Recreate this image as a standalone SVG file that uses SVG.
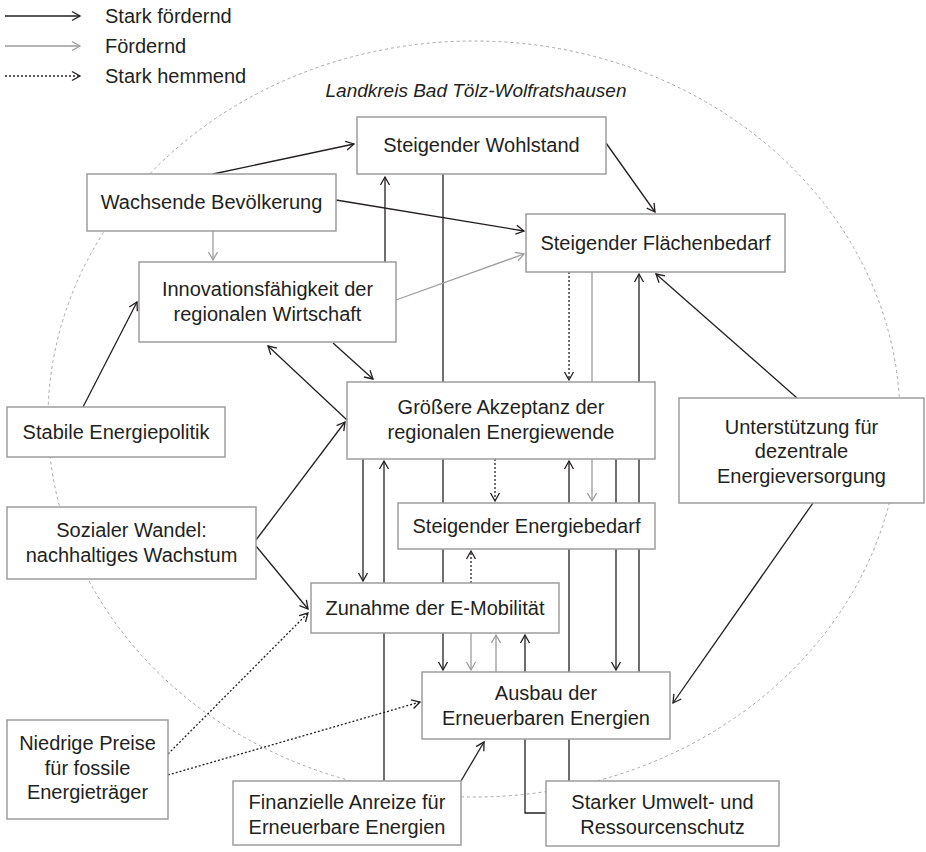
<svg xmlns="http://www.w3.org/2000/svg" width="926" height="852" viewBox="0 0 926 852">
  <style>
    .box { fill: #ffffff; stroke: #9d9d9d; stroke-width: 1.5; }
    .lbl { font-family: "Liberation Sans", Arial, sans-serif; font-size: 20px; fill: #231f20; text-anchor: middle; }
    .leg { font-family: "Liberation Sans", Arial, sans-serif; font-size: 20px; fill: #231f20; }
    .title { font-family: "Liberation Sans", Arial, sans-serif; font-size: 19px; font-style: italic; fill: #231f20; text-anchor: middle; }
    .strong { fill: none; stroke: #231f20; stroke-width: 1.3; marker-end: url(#ah-dark); }
    .weak { fill: none; stroke: #9d9d9d; stroke-width: 1.3; marker-end: url(#ah-grey); }
    .inhib { fill: none; stroke: #231f20; stroke-width: 1.3; stroke-dasharray: 2 2; marker-end: url(#ah-dark); }
    .region { fill: none; stroke: #a8a8a8; stroke-width: 1; stroke-dasharray: 3 3; }
  </style>
  <defs>
    <marker id="ah-dark" viewBox="-10 -6 12 12" refX="0" refY="0" markerWidth="12" markerHeight="12" markerUnits="userSpaceOnUse" orient="auto">
      <path d="M-8,-4.5 L0,0 L-8,4.5" fill="none" stroke="#231f20" stroke-width="1.3"/>
    </marker>
    <marker id="ah-grey" viewBox="-10 -6 12 12" refX="0" refY="0" markerWidth="12" markerHeight="12" markerUnits="userSpaceOnUse" orient="auto">
      <path d="M-8,-4.5 L0,0 L-8,4.5" fill="none" stroke="#9d9d9d" stroke-width="1.3"/>
    </marker>
  </defs>

  <rect width="926" height="852" fill="#ffffff"/>

  <!-- legend -->
  <g id="legend">
    <line x1="5" y1="16" x2="80" y2="16" class="strong"/>
    <text x="105" y="23" class="leg">Stark fördernd</text>
    <line x1="5" y1="46" x2="80" y2="46" class="weak"/>
    <text x="105" y="53" class="leg">Fördernd</text>
    <line x1="5" y1="76" x2="80" y2="76" class="inhib"/>
    <text x="105" y="83" class="leg">Stark hemmend</text>
  </g>

  <!-- district boundary -->
  <g id="district">
    <ellipse cx="474" cy="419" rx="426" ry="378" class="region"/>
    <text x="476" y="97" class="title">Landkreis Bad Tölz-Wolfratshausen</text>
  </g>

  <g id="connectors">
    <!-- strongly promoting -->
    <path d="M213,174 L354,144" class="strong"/>
    <path d="M336,200 L524,231" class="strong"/>
    <path d="M385,262 L385,177" class="strong"/>
    <path d="M443,174 L443,670" class="strong"/>
    <path d="M606,143 L655,212" class="strong"/>
    <path d="M83,407 L137,302" class="strong"/>
    <path d="M333,343 L373,379" class="strong"/>
    <path d="M347,420 L268,346" class="strong"/>
    <path d="M256,540 L345,422" class="strong"/>
    <path d="M256,546 L308,609" class="strong"/>
    <path d="M363,459 L363,581" class="strong"/>
    <path d="M384,781 L384,461" class="strong"/>
    <path d="M461,781 L484,742" class="strong"/>
    <path d="M639,672 L639,274" class="strong"/>
    <path d="M616,459 L616,670" class="strong"/>
    <path d="M569,781 L569,461" class="strong"/>
    <path d="M546,813 L525,813 L525,635" class="strong"/>
    <path d="M797,398 L656,274" class="strong"/>
    <path d="M813,503 L673,703" class="strong"/>
    <!-- promoting -->
    <path d="M213,231 L213,260" class="weak"/>
    <path d="M396,300 L524,254" class="weak"/>
    <path d="M592,272 L592,501" class="weak"/>
    <path d="M471,633 L471,670" class="weak"/>
    <path d="M496,672 L496,635" class="weak"/>
    <!-- strongly inhibiting -->
    <path d="M569,272 L569,380" class="inhib"/>
    <path d="M495,459 L495,501" class="inhib"/>
    <path d="M471,583 L471,551" class="inhib"/>
    <path d="M168,754 L308,613" class="inhib"/>
    <path d="M168,775 L420,702" class="inhib"/>
  </g>

  <g id="node-wohlstand">
    <rect x="357" y="117" width="249" height="57" class="box"/>
    <text x="481.5" y="152" class="lbl">Steigender Wohlstand</text>
  </g>
  <g id="node-bevoelkerung">
    <rect x="87" y="174" width="249" height="57" class="box"/>
    <text x="211.5" y="209" class="lbl">Wachsende Bevölkerung</text>
  </g>
  <g id="node-innovation">
    <rect x="139" y="262" width="257" height="80" class="box"/>
    <text x="267.5" y="296" class="lbl">Innovationsfähigkeit der</text>
    <text x="267.5" y="320.5" class="lbl">regionalen Wirtschaft</text>
  </g>
  <g id="node-flaechenbedarf">
    <rect x="526" y="214" width="259" height="58" class="box"/>
    <text x="655.5" y="250" class="lbl">Steigender Flächenbedarf</text>
  </g>
  <g id="node-akzeptanz">
    <rect x="347" y="382" width="308" height="77" class="box"/>
    <text x="501" y="414" class="lbl">Größere Akzeptanz der</text>
    <text x="501" y="438.5" class="lbl">regionalen Energiewende</text>
  </g>
  <g id="node-energiebedarf">
    <rect x="398" y="503" width="257" height="46" class="box"/>
    <text x="526.5" y="533" class="lbl">Steigender Energiebedarf</text>
  </g>
  <g id="node-emobilitaet">
    <rect x="311" y="583" width="248" height="50" class="box"/>
    <text x="435" y="615" class="lbl">Zunahme der E-Mobilität</text>
  </g>
  <g id="node-ausbau">
    <rect x="422" y="672" width="248" height="67" class="box"/>
    <text x="546" y="700" class="lbl">Ausbau der</text>
    <text x="546" y="724.5" class="lbl">Erneuerbaren Energien</text>
  </g>
  <g id="node-energiepolitik">
    <rect x="7" y="407" width="218" height="50" class="box"/>
    <text x="116" y="439" class="lbl">Stabile Energiepolitik</text>
  </g>
  <g id="node-sozialer-wandel">
    <rect x="7" y="507" width="249" height="72" class="box"/>
    <text x="131.5" y="537" class="lbl">Sozialer Wandel:</text>
    <text x="131.5" y="561.5" class="lbl">nachhaltiges Wachstum</text>
  </g>
  <g id="node-fossile-preise">
    <rect x="7" y="720" width="161" height="99" class="box"/>
    <text x="87.5" y="750" class="lbl">Niedrige Preise</text>
    <text x="87.5" y="774.5" class="lbl">für fossile</text>
    <text x="87.5" y="799" class="lbl">Energieträger</text>
  </g>
  <g id="node-anreize">
    <rect x="233" y="781" width="228" height="64" class="box"/>
    <text x="347" y="809" class="lbl">Finanzielle Anreize für</text>
    <text x="347" y="833.5" class="lbl">Erneuerbare Energien</text>
  </g>
  <g id="node-umweltschutz">
    <rect x="546" y="781" width="233" height="65" class="box"/>
    <text x="662.5" y="809" class="lbl">Starker Umwelt- und</text>
    <text x="662.5" y="833.5" class="lbl">Ressourcenschutz</text>
  </g>
  <g id="node-dezentral">
    <rect x="679" y="398" width="245" height="105" class="box"/>
    <text x="801.5" y="433.5" class="lbl">Unterstützung für</text>
    <text x="801.5" y="458" class="lbl">dezentrale</text>
    <text x="801.5" y="482.5" class="lbl">Energieversorgung</text>
  </g>
</svg>
